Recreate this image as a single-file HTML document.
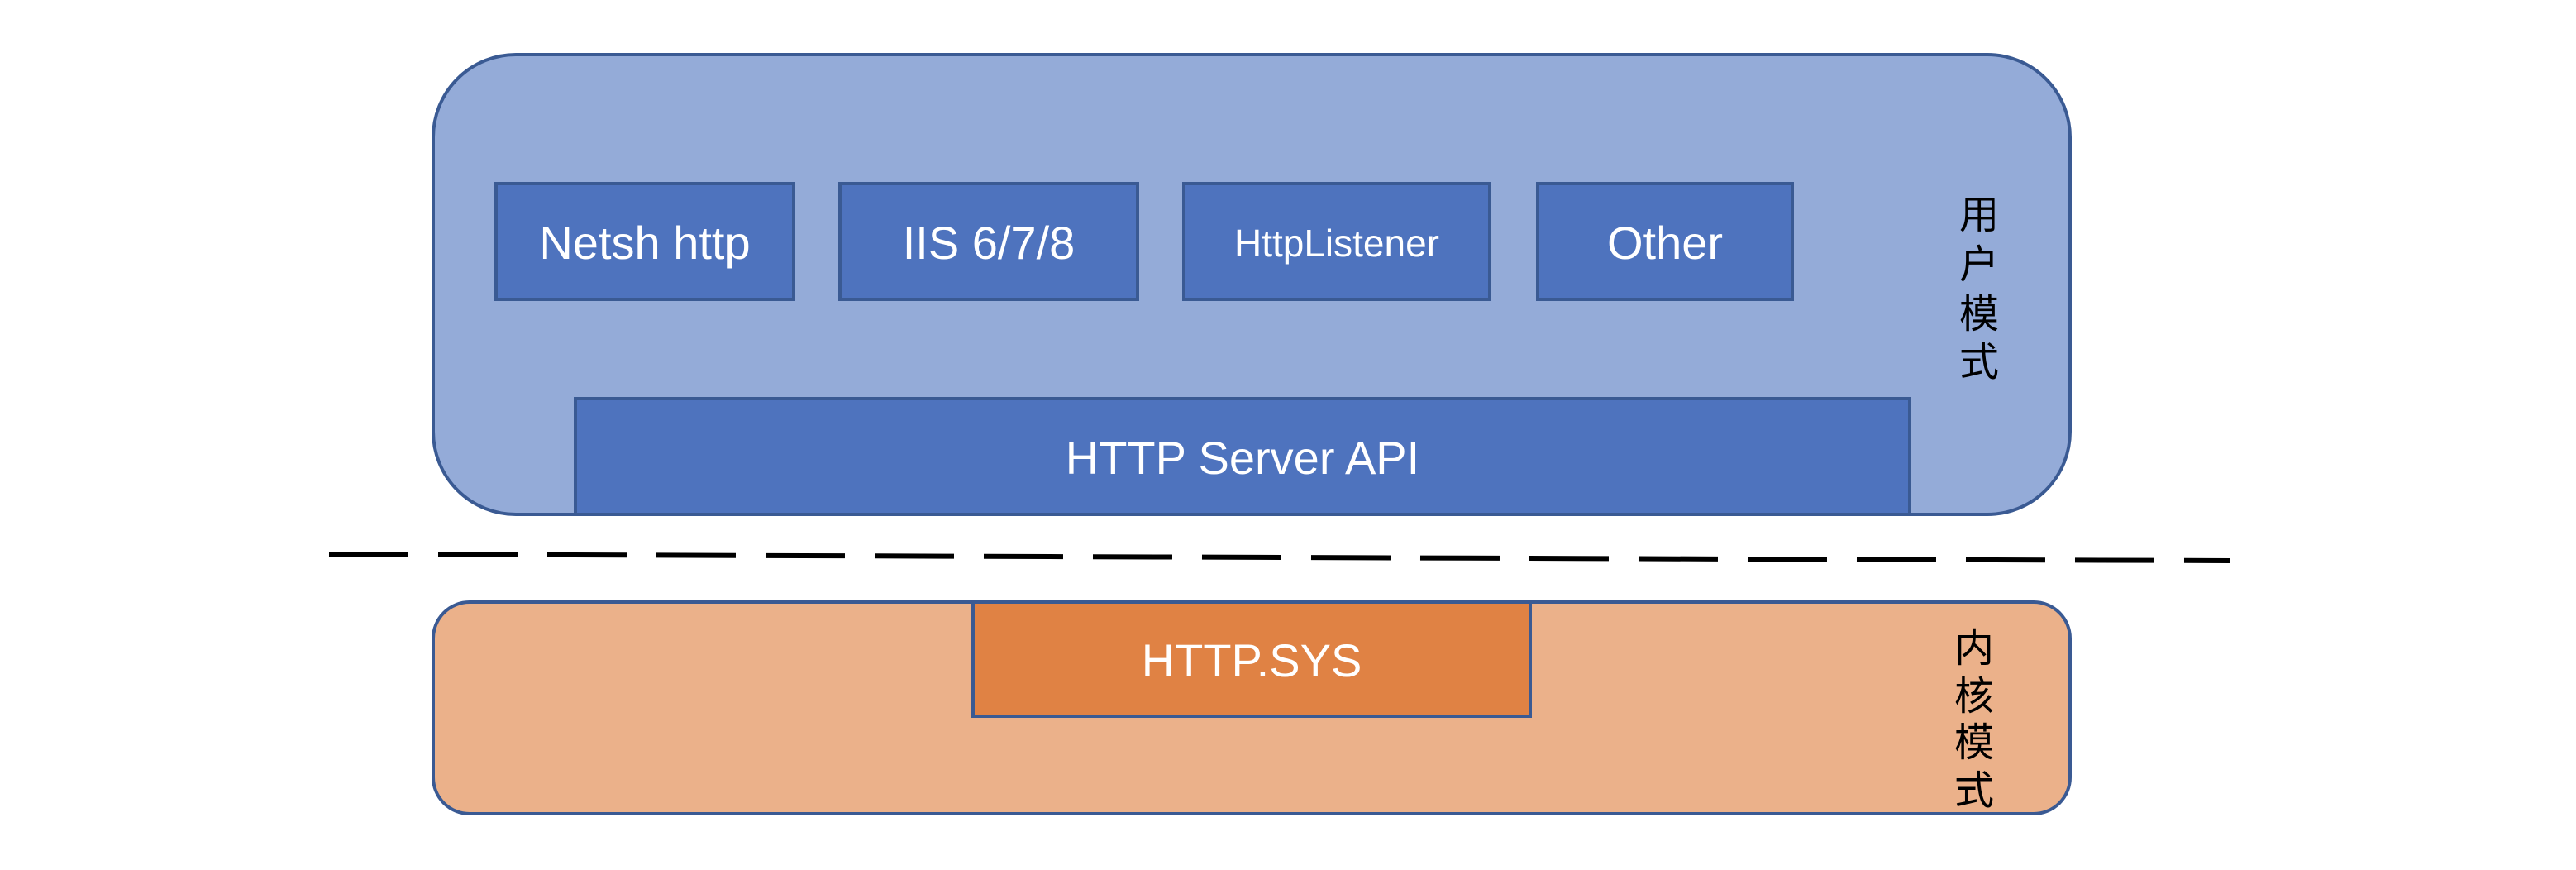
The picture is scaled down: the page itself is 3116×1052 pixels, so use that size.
<!DOCTYPE html>
<html><head><meta charset="utf-8"><style>
html,body{margin:0;padding:0;background:#fff;}
svg{display:block;}
text{font-family:"Liberation Sans","Noto Sans CJK SC",sans-serif;}
</style></head><body>
<svg width="3116" height="1052" viewBox="0 0 3116 1052" xmlns="http://www.w3.org/2000/svg">
<rect x="524" y="66" width="1980" height="556" rx="100" ry="100" fill="#94ABD8" stroke="#3A5A93" stroke-width="4"/>
<g fill="#4E73BE" stroke="#3A5A93" stroke-width="4">
<rect x="600" y="222" width="360" height="140"/>
<rect x="1016" y="222" width="360" height="140"/>
<rect x="1432" y="222" width="370" height="140"/>
<rect x="1860" y="222" width="308" height="140"/>
<rect x="696" y="482" width="1614" height="140"/>
</g>
<g fill="#fff" font-size="56" text-anchor="middle">
<text x="780" y="313">Netsh http</text>
<text x="1196" y="313">IIS 6/7/8</text>
<text x="1617" y="310" font-size="46">HttpListener</text>
<text x="2014" y="313">Other</text>
<text x="1503" y="573">HTTP Server API</text>
</g>
<text font-size="48" fill="#000" text-anchor="middle">
<tspan x="2394" y="276">用</tspan><tspan x="2394" y="336">户</tspan><tspan x="2394" y="396">模</tspan><tspan x="2394" y="454">式</tspan>
</text>
<line x1="398" y1="670" x2="2697" y2="678" stroke="#000" stroke-width="6" stroke-dasharray="96,36"/>
<rect x="524" y="728" width="1980" height="256" rx="44" ry="44" fill="#EBB18A" stroke="#3A5A93" stroke-width="4"/>
<rect x="1177" y="728" width="674" height="138" fill="#E08244" stroke="#3A5A93" stroke-width="4"/>
<text x="1514" y="818" font-size="56" fill="#fff" text-anchor="middle">HTTP.SYS</text>
<text font-size="48" fill="#000" text-anchor="middle">
<tspan x="2388" y="800">内</tspan><tspan x="2388" y="858">核</tspan><tspan x="2388" y="914">模</tspan><tspan x="2388" y="972">式</tspan>
</text>
</svg>
</body></html>
